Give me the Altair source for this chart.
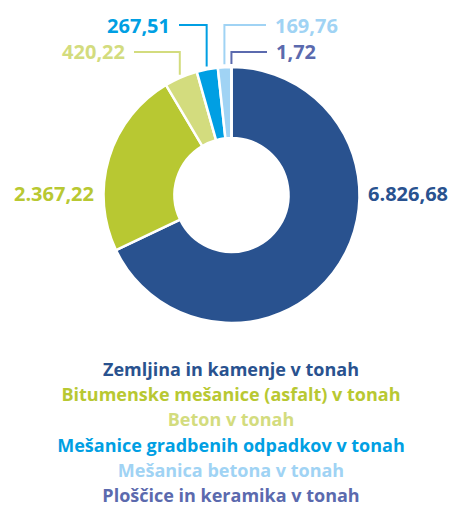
import math
import altair as alt
import pandas as pd

# Construction waste quantities (tonnes), clockwise from 12 o'clock
categories = [
    "Zemljina in kamenje v tonah",
    "Bitumenske mešanice (asfalt) v tonah",
    "Beton v tonah",
    "Mešanice gradbenih odpadkov v tonah",
    "Mešanica betona v tonah",
    "Ploščice in keramika v tonah",
]
values = [6826.68, 2367.22, 420.22, 267.51, 169.76, 1.72]
value_labels = ["6.826,68", "2.367,22", "420,22", "267,51", "169,76", "1,72"]
colors = ["#29528f", "#b8c832", "#d3dc7e", "#009fe3", "#a0d3f4", "#5b6aae"]

FONT = "Open Sans"
CX, CY = 231.5, 195.0
R_OUT, R_IN = 128, 57

# Label anchors: (x, y, align, leader elbow y or None)
label_layout = [
    (368, 195, "left", None),
    (94, 195, "right", None),
    (125, 53, "right", 52),
    (170, 27, "right", 25),
    (275, 27, "left", 25),
    (276, 53, "left", 52),
]

df = pd.DataFrame({
    "category": categories,
    "value": values,
    "idx": list(range(len(values))),
})

color_scale = alt.Scale(domain=categories, range=colors)

arcs = alt.Chart(df).mark_arc(
    radius=R_OUT, radius2=R_IN, stroke="white", strokeWidth=2.5
).encode(
    theta=alt.Theta("value:Q", stack=True),
    color=alt.Color("category:N", scale=color_scale, legend=None),
    order=alt.Order("idx:Q"),
    x=alt.value(CX),
    y=alt.value(CY),
)

# Leader lines from label to the middle of each small slice
total = sum(values)
cum = 0.0
rows = []
for i, (cat, v) in enumerate(zip(categories, values)):
    mid = (cum + v / 2) / total * 2 * math.pi
    cum += v
    lx, ly, align, elbow = label_layout[i]
    if elbow is None:
        continue
    px = CX + (R_OUT + 3) * math.sin(mid)
    py = CY - (R_OUT + 3) * math.cos(mid)
    start_x = lx + 9 if align == "right" else lx - 9
    for k, (xx, yy) in enumerate([(start_x, elbow), (px, elbow), (px, py)]):
        rows.append({"category": cat, "k": k, "x": xx, "y": yy})
leaders_df = pd.DataFrame(rows)

leaders = alt.Chart(leaders_df).mark_line(strokeWidth=2).encode(
    x=alt.X("x:Q", scale=None),
    y=alt.Y("y:Q", scale=None),
    color=alt.Color("category:N", scale=color_scale, legend=None),
    order=alt.Order("k:Q"),
    detail="category:N",
)

lab_df = pd.DataFrame({
    "category": categories,
    "label": value_labels,
    "x": [l[0] for l in label_layout],
    "y": [l[1] for l in label_layout],
    "align": [l[2] for l in label_layout],
})

def value_text(align):
    return alt.Chart(lab_df[lab_df["align"] == align]).mark_text(
        font=FONT, fontSize=20, fontWeight="bold", align=align, baseline="middle"
    ).encode(
        x=alt.X("x:Q", scale=None),
        y=alt.Y("y:Q", scale=None),
        text="label:N",
        color=alt.Color("category:N", scale=color_scale, legend=None),
    )

legend_df = pd.DataFrame({
    "category": categories,
    "row": list(range(len(categories))),
})

legend_text = alt.Chart(legend_df).transform_calculate(
    ly="371 + datum.row * 25.2"
).mark_text(
    font=FONT, fontSize=18, fontWeight="bold", align="center", baseline="middle"
).encode(
    x=alt.value(231),
    y=alt.Y("ly:Q", scale=None),
    text="category:N",
    color=alt.Color("category:N", scale=color_scale, legend=None),
)

chart = alt.layer(
    arcs, leaders, value_text("left"), value_text("right"), legend_text
).properties(
    width=451, height=506, autosize="none", padding=0
).configure_view(stroke=None)

chart.save("out.html", embed_options={"renderer": "svg", "actions": False})
